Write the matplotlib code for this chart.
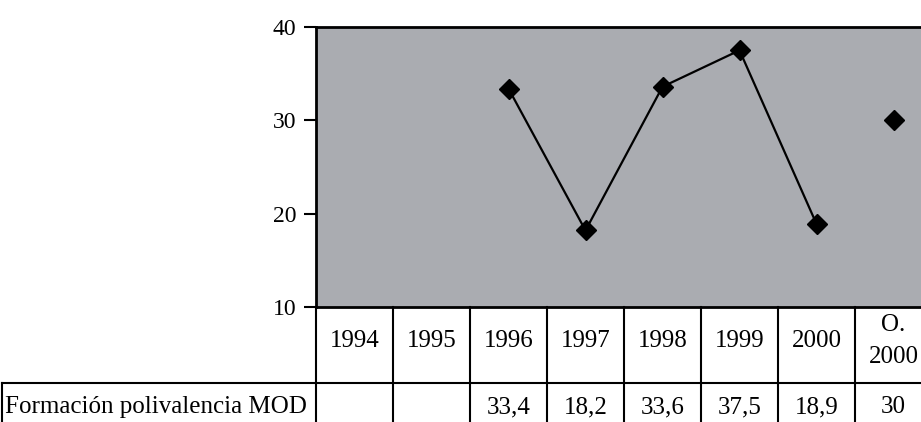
import numpy as np
import matplotlib.pyplot as plt
import matplotlib.transforms as mtransforms

plt.rcParams['font.family'] = ['Liberation Serif', 'DejaVu Serif']

# data
years = ['1994', '1995', '1996', '1997', '1998', '1999', '2000', 'O.\n2000']
values = [np.nan, np.nan, 33.4, 18.2, 33.6, 37.5, 18.9, 30]
value_labels = ['', '', '33,4', '18,2', '33,6', '37,5', '18,9', '30']
serie = 'Formación polivalencia MOD'
yticks = [10, 20, 30, 40]

W, H = 921, 422
fig = plt.figure(figsize=(W / 100, H / 100), dpi=100)
# plot area in pixels: x 316..932 (cut by the image edge), y 27..307
ax = fig.add_axes([316 / W, 1 - 307 / H, 616 / W, 280 / H])
ax.set_facecolor('#aaacb1')

x = np.arange(len(years))
# the last point (O. 2000) is not joined to the line
ax.plot(x[:7], values[:7], color='black', lw=1.6, marker='D', ms=10,
        markerfacecolor='black', markeredgecolor='black')
ax.plot(x[7:], values[7:], ls='none', marker='D', ms=10, color='black')

ax.set_xlim(-0.5, len(years) - 0.5)
ax.set_ylim(10, 40)
ax.set_yticks(yticks)
ax.set_yticklabels([str(t) for t in yticks], fontsize=17)
ax.tick_params(axis='y', direction='out', length=9, width=1.5, pad=5)
ax.set_xticks([])
for s in ['top', 'left', 'bottom']:
    ax.spines[s].set_linewidth(2)
ax.spines['right'].set_linewidth(1.5)

# data table under the plot: x in data units, y in axes fraction
tr = mtransforms.blended_transform_factory(ax.transData, ax.transAxes)
row1 = -76 / 280    # line between header and values
row2 = -125 / 280   # bottom of the value row (below the image edge)
lab_left = -314 / 616

edges = np.arange(len(years) + 1) - 0.5
for e in edges:
    ax.plot([e, e], [0, row2], color='black', lw=1.5, transform=tr, clip_on=False)
ax.plot([lab_left, 1.02], [row1, row1], color='black', lw=1.5,
        transform=ax.transAxes, clip_on=False)
ax.plot([lab_left, 1.02], [row2, row2], color='black', lw=1.5,
        transform=ax.transAxes, clip_on=False)
ax.plot([lab_left, lab_left], [row1, row2], color='black', lw=1.5,
        transform=ax.transAxes, clip_on=False)

for i, yr in enumerate(years):
    ax.text(x[i], -34 / 280, yr, transform=tr, ha='center', va='center',
            fontsize=18, linespacing=1.55)
    ax.text(x[i], -100 / 280, value_labels[i], transform=tr, ha='center',
            va='center', fontsize=18)
ax.text(lab_left + 0.005, -100 / 280, serie, transform=ax.transAxes,
        ha='left', va='center', fontsize=18)

fig.savefig('out.png', dpi=100)
